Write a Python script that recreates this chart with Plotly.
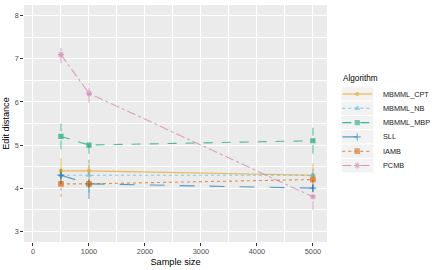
import plotly.graph_objects as go

sample_sizes = [500, 1000, 5000]
algorithms = ["MBMML_CPT", "MBMML_NB", "MBMML_MBP", "SLL", "IAMB", "PCMB"]

mbmml_cpt = [4.4, 4.4, 4.3]
mbmml_cpt_err = [0.3, 0.25, 0.28]
mbmml_nb = [4.3, 4.3, 4.3]
mbmml_nb_err = [0.2, 0.4, 0.2]
mbmml_mbp = [5.2, 5.0, 5.1]
mbmml_mbp_err = [0.3, 0.2, 0.3]
sll = [4.3, 4.1, 4.0]
sll_err = [0.2, 0.35, 0.1]
iamb = [4.1, 4.1, 4.2]
iamb_err = [0.3, 0.1, 0.2]
pcmb = [7.1, 6.2, 3.8]
pcmb_err = [0.2, 0.22, 0.3]

values = [mbmml_cpt, mbmml_nb, mbmml_mbp, sll, iamb, pcmb]
errors = [mbmml_cpt_err, mbmml_nb_err, mbmml_mbp_err, sll_err, iamb_err, pcmb_err]

colors = ["#E69F00", "#56B4E9", "#009E73", "#0072B2", "#D55E00", "#CC79A7"]
dashes = ["solid", "dot", "dash", "longdash", "dot", "dashdot"]
symbols = ["circle", "triangle-up", "square", "cross-thin", "square", "asterisk"]
msizes = [3, 4, 4, 5, 4.5, 5]

FONT = "Liberation Sans, Arial, sans-serif"
W, H = 437, 270
ML, MR, MT, MB = 24, 0, 5, 28
PW, PH = W - ML - MR, H - MT - MB
PANEL_RIGHT = 327


def px_x(p):
    return (p - ML) / PW


def px_y(p):
    return (H - MB - p) / PH


fig = go.Figure()

# error bars (vertical segments in the series' line style)
for name, vals, errs, c, d in zip(algorithms, values, errors, colors, dashes):
    xs, ys = [], []
    for x, v, e in zip(sample_sizes, vals, errs):
        xs += [x, x, None]
        ys += [v - e, v + e, None]
    fig.add_trace(go.Scatter(x=xs, y=ys, mode="lines", showlegend=False,
                             line=dict(color=c, width=1.1, dash=d), opacity=0.6,
                             hoverinfo="skip"))

# series lines + points
for name, vals, c, d, s, ms in zip(algorithms, values, colors, dashes, symbols, msizes):
    fig.add_trace(go.Scatter(x=sample_sizes, y=vals, mode="lines+markers", name=name,
                             showlegend=False,
                             line=dict(color=c, width=1.1, dash=d), opacity=0.65,
                             marker=dict(symbol=s, size=ms, color=c,
                                         line=dict(color=c, width=1.2))))

# ggplot-style legend keys on a small auxiliary axis
for i, (name, c, d, s, ms) in enumerate(zip(algorithms, colors, dashes, symbols, msizes)):
    fig.add_shape(type="rect", xref="x2", yref="y2", x0=0, x1=1, y0=i - 0.5, y1=i + 0.5,
                  fillcolor="#F2F2F2", line=dict(color="white", width=1), layer="below")
    fig.add_trace(go.Scatter(x=[0.04, 0.5, 0.96], y=[i, i, i], xaxis="x2", yaxis="y2",
                             mode="lines+markers", showlegend=False, hoverinfo="skip",
                             line=dict(color=c, width=1.1, dash=d), opacity=0.75,
                             marker=dict(symbol=s, size=[0, ms, 0], color=c,
                                         line=dict(color=c, width=1.2))))
    fig.add_annotation(text=name, xref="paper", yref="y2", x=px_x(380.5), y=i,
                       xanchor="left", yanchor="middle", showarrow=False,
                       font=dict(family=FONT, size=7.3, color="#1A1A1A"))

fig.add_annotation(text="Algorithm", xref="paper", yref="paper", x=px_x(340.5),
                   y=px_y(78.5), xanchor="left", yanchor="middle", showarrow=False,
                   font=dict(family=FONT, size=8.2, color="black"))

axis_common = dict(showgrid=True, gridcolor="white", gridwidth=1.05, zeroline=False,
                   ticks="outside", ticklen=2.7, tickcolor="#333333", tickwidth=1,
                   tickfont=dict(family=FONT, size=7.3, color="#4D4D4D"),
                   showline=False,
                   minor=dict(showgrid=True, gridcolor="white", gridwidth=0.55))

fig.update_layout(
    xaxis=dict(domain=[0, px_x(PANEL_RIGHT)], range=[-160, 5252],
               tickvals=[0, 1000, 2000, 3000, 4000, 5000],
               minor_tickvals=[500, 1500, 2500, 3500, 4500],
               title=dict(text="Sample size", standoff=3,
                          font=dict(family=FONT, size=9.2, color="black")),
               **axis_common),
    yaxis=dict(domain=[0, 1], range=[2.75, 8.25], tickvals=[3, 4, 5, 6, 7, 8],
               minor_tickvals=[3.5, 4.5, 5.5, 6.5, 7.5],
               title=dict(text="Edit distance", standoff=3,
                          font=dict(family=FONT, size=9.2, color="black")),
               **axis_common),
    xaxis2=dict(domain=[px_x(341), px_x(373.5)], range=[0, 1], visible=False,
                anchor="y2", fixedrange=True),
    yaxis2=dict(domain=[px_y(94 + 5 * 14.3 + 7.15), px_y(94 - 7.15)], range=[5.5, -0.5],
                visible=False, anchor="x2", fixedrange=True),
    width=W, height=H,
    margin=dict(l=ML, r=MR, t=MT, b=MB, autoexpand=False),
    paper_bgcolor="white", plot_bgcolor="#EBEBEB",
    font=dict(family=FONT, size=8, color="black"),
    showlegend=False,
)

fig.write_html("out.html", config={"displayModeBar": False},
               post_script="document.body.style.margin='0';")
